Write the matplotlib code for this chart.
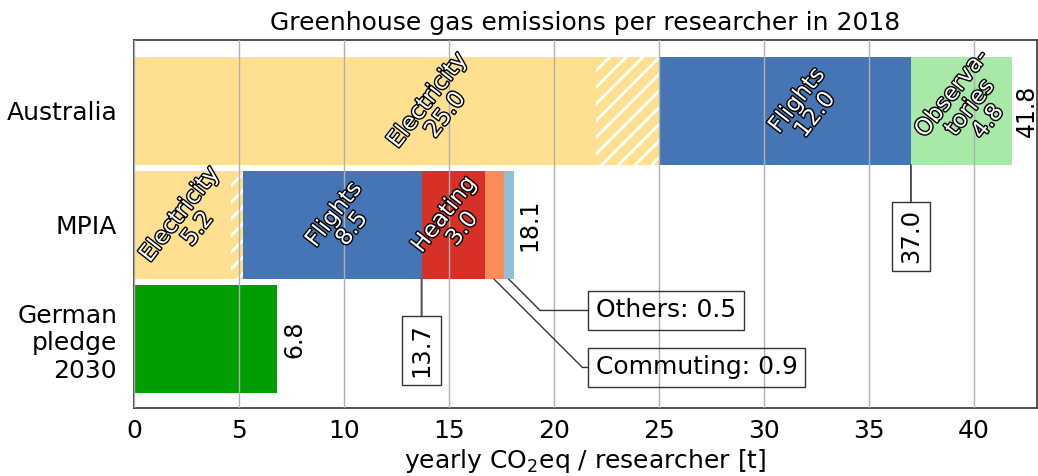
import numpy as np
import matplotlib
matplotlib.use('Agg')
import matplotlib.pyplot as plt
import matplotlib.patheffects as pe

plt.rcParams['font.family'] = ['DejaVu Sans']
plt.rcParams['hatch.linewidth'] = 2.0

# ---------------------------------------------------------------- data
groups = ['Australia', 'MPIA', 'German\npledge\n2030']

# Australia: electricity (solid + hatched part), flights, observatories
aus_names = ['Electricity', 'Flights', 'Observa-\ntories']
aus_values = [25.0, 12.0, 4.8]
aus_elec_solid = 22.0

# MPIA: electricity, flights, heating, commuting, others
mpia_names = ['Electricity', 'Flights', 'Heating', 'Commuting', 'Others']
mpia_values = [5.2, 8.5, 3.0, 0.9, 0.5]
mpia_elec_solid = 4.6

german_pledge = 6.8

col = {'Electricity': '#fee090', 'Flights': '#4575b4', 'Observa-\ntories': '#a8e9a8',
       'Heating': '#d73027', 'Commuting': '#fc8d59', 'Others': '#91bfdb'}
green = '#009e00'

# ---------------------------------------------------------------- plot
fig = plt.figure(figsize=(10.38, 4.76), dpi=100)
ax = fig.add_axes([0.129, 0.143, 0.870, 0.773])
h = 0.95

txt_fx = [pe.withStroke(linewidth=2.0, foreground='black')]


def stack(row, names, values, solid, shift):
    left = 0.0
    edges = []
    for i, (n, v) in enumerate(zip(names, values)):
        if n == 'Electricity':
            ax.barh(row, solid, left=left, height=h, color=col[n], lw=0)
            ax.barh(row, v - solid, left=left + solid, height=h, color=col[n],
                    edgecolor='white', hatch='//', lw=0)
        else:
            ax.barh(row, v, left=left, height=h, color=col[n], lw=0)
        if n in shift:
            ax.text(left + v / 2 + shift[n], row - 0.03, '%s\n%.1f' % (n, v),
                    rotation=52, ha='center', va='center', ma='center',
                    color='white', fontsize=16.5, path_effects=txt_fx,
                    linespacing=1.0, zorder=5)
        left += v
        edges.append(left)
    ax.text(left + 0.15, row, '%.1f' % left, rotation=90, ha='left', va='center',
            fontsize=17)
    return edges


aus_edges = stack(0, aus_names, aus_values, aus_elec_solid,
                  {'Electricity': 1.9, 'Flights': 1.0, 'Observa-\ntories': 0.4})
mpia_edges = stack(1, mpia_names, mpia_values, mpia_elec_solid,
                   {'Electricity': 0.0, 'Flights': 0.5, 'Heating': 0.0})

ax.barh(2, german_pledge, height=h, color=green, lw=0)
ax.text(german_pledge + 0.25, 2, '%.1f' % german_pledge, rotation=90,
        ha='left', va='center', fontsize=17)

box = dict(boxstyle='square,pad=0.3', fc='none', ec='#333333', lw=1.0)

# subtotal markers
ax.annotate('%.1f' % aus_edges[1], xy=(aus_edges[1], h / 2), xytext=(aus_edges[1], 1.1),
            rotation=90, ha='center', va='center', fontsize=17.5, bbox=box,
            arrowprops=dict(arrowstyle='-', color='#333333', lw=1.2, shrinkA=0, shrinkB=0))
ax.annotate('%.1f' % mpia_edges[1], xy=(mpia_edges[1], 1 + h / 2), xytext=(mpia_edges[1], 2.1),
            rotation=90, ha='center', va='center', fontsize=17.5, bbox=box,
            arrowprops=dict(arrowstyle='-', color='#555555', lw=1.5, shrinkA=0, shrinkB=0))

# small items
for i, yt in [(4, 1.75), (3, 2.25)]:
    mid = mpia_edges[i] - mpia_values[i] / 2
    ax.annotate('%s: %.1f' % (mpia_names[i], mpia_values[i]),
                xy=(mid, 1 + h / 2), xytext=(22.0, yt), ha='left', va='center',
                fontsize=18, bbox=box,
                arrowprops=dict(arrowstyle='-', color='#333333', lw=1.0,
                                shrinkA=0, shrinkB=0,
                                connectionstyle='angle,angleA=0,angleB=-45,rad=0'))

ax.set_yticks(range(len(groups)))
ax.set_yticklabels(groups, fontsize=18, multialignment='right')
ax.set_ylim(2.605, -0.623)
ax.set_xlim(0, 43)
ax.set_xticks(np.arange(0, 41, 5))
ax.tick_params(axis='x', labelsize=18, length=0, pad=8)
ax.tick_params(axis='y', length=0, pad=12)
ax.grid(axis='x', color='#b0b0b0', lw=1.0)
ax.set_axisbelow(False)
for s in ax.spines.values():
    s.set_color('#444444')
    s.set_linewidth(1.3)

ax.set_title('Greenhouse gas emissions per researcher in 2018', fontsize=18, pad=7)
ax.set_xlabel('yearly CO$_2$eq / researcher [t]', fontsize=18, labelpad=3)

fig.savefig('out.png', dpi=100)
